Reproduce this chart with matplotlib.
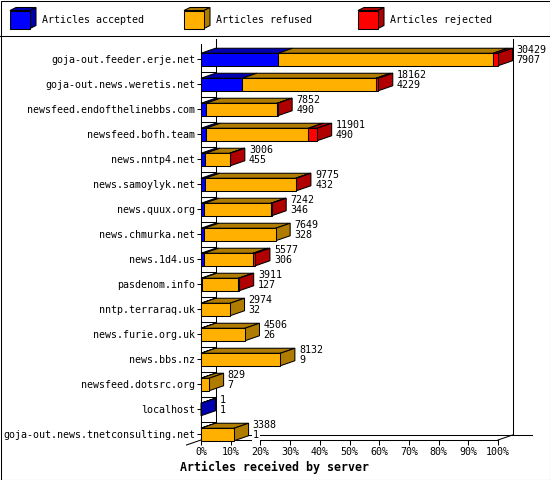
import matplotlib
matplotlib.use('Agg')
import matplotlib.pyplot as plt
from matplotlib.patches import Polygon, Rectangle

# ---------------- data ----------------
servers = [
    'goja-out.feeder.erje.net',
    'goja-out.news.weretis.net',
    'newsfeed.endofthelinebbs.com',
    'newsfeed.bofh.team',
    'news.nntp4.net',
    'news.samoylyk.net',
    'news.quux.org',
    'news.chmurka.net',
    'news.1d4.us',
    'pasdenom.info',
    'nntp.terraraq.uk',
    'news.furie.org.uk',
    'news.bbs.nz',
    'newsfeed.dotsrc.org',
    'localhost',
    'goja-out.news.tnetconsulting.net',
]
offered = [30429, 18162, 7852, 11901, 3006, 9775, 7242, 7649, 5577, 3911,
           2974, 4506, 8132, 829, 1, 3388]
accepted = [7907, 4229, 490, 490, 455, 432, 346, 328, 306, 127,
            32, 26, 9, 7, 1, 1]
rejected = [500, 230, 40, 900, 60, 80, 80, 0, 250, 80,
            0, 0, 0, 0, 0, 0]
series_names = ['Articles accepted', 'Articles refused', 'Articles rejected']
x_ticks = [0, 10, 20, 30, 40, 50, 60, 70, 80, 90, 100]
x_label = 'Articles received by server'

# ---------------- style ----------------
W, H = 550, 480
FONT = 'DejaVu Sans Mono'
FS = 7.2
LW = 0.75
front_cols = ['#0000FF', '#FFB000', '#FF0000']
dark_cols = ['#0000B0', '#B07C00', '#B00000']

fig = plt.figure(figsize=(W / 100, H / 100), dpi=100)
fig.patch.set_facecolor('white')

# overlay in pixel coordinates for frame + legend
ov = fig.add_axes([0, 0, 1, 1], zorder=0)
ov.set_xlim(0, W)
ov.set_ylim(H, 0)
ov.axis('off')
ov.add_patch(Rectangle((0.5, 0.5), W - 1, H - 1, fill=False, lw=LW, ec='black'))
ov.plot([0, W], [35.5, 35.5], color='black', lw=LW)
leg_x = [10, 184, 358]
txt_x = [42, 216.5, 390]
for k in range(3):
    x0 = leg_x[k]
    y0, y1 = 10.5, 28.5
    w, dxl, dyl = 20, 6, 3
    ov.add_patch(Polygon([(x0, y0), (x0 + w, y0), (x0 + w + dxl, y0 - dyl), (x0 + dxl, y0 - dyl)],
                         closed=True, fc=dark_cols[k], ec='black', lw=LW))
    ov.add_patch(Polygon([(x0 + w, y0), (x0 + w + dxl, y0 - dyl), (x0 + w + dxl, y1 - dyl), (x0 + w, y1)],
                         closed=True, fc=dark_cols[k], ec='black', lw=LW))
    ov.add_patch(Rectangle((x0, y0), w, y1 - y0, fc=front_cols[k], ec='black', lw=LW))
    ov.text(txt_x[k], 20, series_names[k], fontsize=FS, family=FONT,
            va='center', ha='left', color='black')

# data axes = front face of the 3D plot area
L, R, T, B = 201, 498, 44, 440
ax = fig.add_axes([L / W, (H - B) / H, (R - L) / W, (B - T) / H], zorder=1)
ax.set_facecolor('none')
n = len(servers)
ytop, ybot = -0.62, n - 1 + 0.22
ax.set_xlim(0, 100)
ax.set_ylim(ybot, ytop)
for s in ['top', 'right']:
    ax.spines[s].set_visible(False)
for s in ['left', 'bottom']:
    ax.spines[s].set_linewidth(LW)

dx = 14.5 / (R - L) * 100          # depth in percent units
dy = 5.0 / ((B - T) / (ybot - ytop))  # depth in row units
hb = 0.25

# back wall & floor
ax.plot([dx, dx], [ytop - dy, ybot - dy], color='black', lw=LW, clip_on=False, zorder=1)
ax.plot([100 + dx, 100 + dx], [ytop - dy, ybot - dy], color='black', lw=LW, clip_on=False, zorder=1)
ax.plot([dx, 100 + dx + 6.4], [ybot - dy, ybot - dy], color='black', lw=LW, clip_on=False, zorder=1)
ax.plot([-dx, dx], [ybot + dy, ybot - dy], color='black', lw=LW, clip_on=False, zorder=1)
ax.plot([100, 100 + dx], [ybot, ybot - dy], color='black', lw=LW, clip_on=False, zorder=1)
for i in range(n - 1):
    ax.plot([0, dx], [i + 0.5, i + 0.5], color='black', lw=LW, clip_on=False, zorder=1)

vmax = max(offered)
for i in range(n):
    acc = accepted[i]
    rej = rejected[i]
    ref = offered[i] - acc - rej
    vals = [acc, ref, rej]
    left = 0.0
    segs = []
    for k, v in enumerate(vals):
        w = 100.0 * v / vmax
        if v > 0:
            segs.append((left, left + w, k))
        left += w
    end = left
    yt, yb = i - hb, i + hb
    for (a, b, k) in segs:
        ax.add_patch(Polygon([(a, yt), (b, yt), (b + dx, yt - dy), (a + dx, yt - dy)], closed=True,
                             fc=dark_cols[k], ec='black', lw=LW, clip_on=False, zorder=3))
    klast = segs[-1][2]
    ax.add_patch(Polygon([(end, yt), (end + dx, yt - dy), (end + dx, yb - dy), (end, yb)], closed=True,
                         fc=dark_cols[klast], ec='black', lw=LW, clip_on=False, zorder=3))
    for (a, b, k) in segs:
        ax.add_patch(Rectangle((a, yt), b - a, yb - yt, fc=front_cols[k], ec='black', lw=LW,
                               clip_on=False, zorder=4))
    tx = end + dx + 1.4
    ax.text(tx, i - 0.38, str(offered[i]), fontsize=FS, family=FONT, va='center', ha='left',
            clip_on=False, zorder=5)
    ax.text(tx, i + 0.04, str(accepted[i]), fontsize=FS, family=FONT, va='center', ha='left',
            clip_on=False, zorder=5,
            bbox=dict(boxstyle='square,pad=0.1', fc='white', ec='none'))

ax.set_yticks(range(n))
ax.set_yticklabels(servers, fontsize=FS, family=FONT)
ax.set_xticks(x_ticks)
ax.set_xticklabels([f'{t}%' for t in x_ticks], fontsize=FS, family=FONT)
ax.tick_params(axis='y', length=3, width=LW, pad=1)
ax.tick_params(axis='x', length=3.6, width=LW, pad=1.5)

fig.text(274 / W, 1 - 467 / H, x_label, fontsize=8.4, family=FONT, fontweight='bold',
         ha='center', va='center')

fig.savefig('out.png', dpi=100, facecolor='white')
